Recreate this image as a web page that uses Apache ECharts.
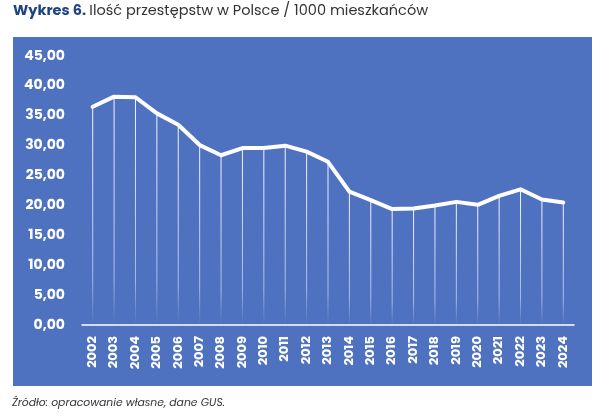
<!DOCTYPE html>
<html>
<head>
<meta charset="utf-8">
<script src="https://cdn.jsdelivr.net/npm/echarts@6/dist/echarts.min.js"></script>
<style>
  html, body { margin: 0; padding: 0; background: #fff; }
  #chart { width: 614px; height: 418px; }
</style>
</head>
<body>
<div id="chart"></div>
<script>
// lata i wskaznik przestepstw na 1000 mieszkancow
var years = ['2002','2003','2004','2005','2006','2007','2008','2009','2010','2011','2012',
             '2013','2014','2015','2016','2017','2018','2019','2020','2021','2022','2023','2024'];
var rate = [36.5, 38.2, 38.1, 35.4, 33.5, 30.1, 28.4, 29.6, 29.6, 30.0, 29.0,
            27.3, 22.3, 20.9, 19.4, 19.5, 20.0, 20.6, 20.1, 21.6, 22.7, 21.0, 20.5];
var yTicks = [0, 5, 10, 15, 20, 25, 30, 35, 40, 45];

var panelColor = '#4f72c0';
var fontMain = 'Poppins, Lato, "Open Sans", sans-serif';

var option = {
    animation: false,
    backgroundColor: '#ffffff',
    grid: { left: 82, right: 40, top: 56, bottom: 93 },
    graphic: [
        {
            type: 'rect', z: -10, silent: true,
            shape: { x: 13, y: 37, width: 579, height: 349 },
            style: { fill: panelColor }
        },
        {
            type: 'text', left: 13, top: 4,
            style: {
                rich: {
                    b: { fontFamily: fontMain, fontWeight: 'bold', fontSize: 14.5, fill: '#1f4482' },
                    n: { fontFamily: fontMain, fontSize: 14.5, fill: '#333333' }
                },
                text: '{b|Wykres 6.} {n|Ilość przestępstw w Polsce / 1000 mieszkańców}'
            }
        },
        {
            type: 'text', left: 12, top: 398,
            style: {
                text: 'Źródło: opracowanie własne, dane GUS.',
                fontFamily: fontMain, fontStyle: 'italic', fontSize: 10.8, fill: '#333333'
            }
        }
    ],
    xAxis: {
        type: 'category',
        data: years,
        boundaryGap: true,
        axisLine: { lineStyle: { color: '#ffffff', width: 1.5 } },
        axisTick: { show: false },
        axisLabel: {
            rotate: 90, color: '#ffffff', fontWeight: 'bold',
            fontFamily: fontMain, fontSize: 13, margin: 11
        }
    },
    yAxis: {
        type: 'value',
        min: 0, max: 45, interval: 5,
        splitLine: { show: false },
        axisLine: { show: false },
        axisTick: { show: false },
        axisLabel: {
            color: '#ffffff', fontWeight: 'bold', fontFamily: fontMain, fontSize: 14, margin: 17,
            formatter: function (v) {
                return yTicks.indexOf(v) >= 0 ? v.toFixed(2).replace('.', ',') : '';
            }
        }
    },
    series: [
        {
            // pionowe linie od punktu w dol
            type: 'bar',
            data: rate,
            barWidth: 1,
            silent: true,
            itemStyle: {
                color: {
                    type: 'linear', x: 0, y: 0, x2: 0, y2: 1,
                    colorStops: [
                        { offset: 0, color: 'rgba(255,255,255,0.95)' },
                        { offset: 0.8, color: 'rgba(255,255,255,0.5)' },
                        { offset: 0.93, color: 'rgba(255,255,255,0.15)' },
                        { offset: 1, color: 'rgba(255,255,255,0)' }
                    ]
                }
            }
        },
        {
            type: 'line',
            data: rate,
            symbol: 'none',
            lineStyle: { color: '#ffffff', width: 4, cap: 'round', join: 'round' },
            z: 5
        }
    ]
};

var chart = echarts.init(document.getElementById('chart'));
chart.setOption(option);
</script>
</body>
</html>
